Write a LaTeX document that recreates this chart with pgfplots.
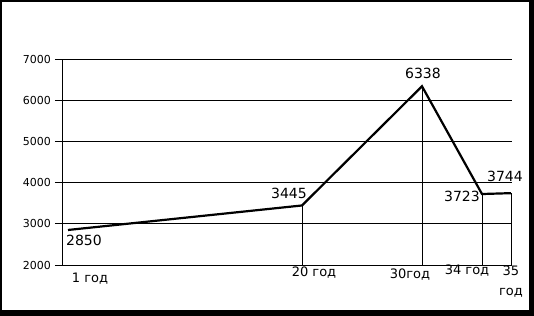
\documentclass[border=0pt]{standalone}
\usepackage{fontspec}
\setmainfont{DejaVu Sans}
\usepackage{pgfplots}
\pgfplotsset{compat=1.18}
\begin{document}
\begin{tikzpicture}
\fill[black] (0,0) rectangle (534bp,316bp);
\fill[white] (2bp,6bp) rectangle (529bp,314bp);
\begin{axis}[
  at={(62bp,51bp)}, anchor=south west,
  scale only axis, width=450bp, height=206bp,
  xmin=62, xmax=512, ymin=2000, ymax=7000,
  axis x line=bottom, axis y line=left,
  axis line style={black, line width=0.8bp, -},
  xtick=\empty,
  ytick={2000,3000,4000,5000,6000,7000},
  ymajorgrids, grid style={black, line width=0.8bp},
  tick align=outside, major tick length=7bp,
  tick style={black, line width=0.8bp},
  /pgf/number format/assume math mode=true,
  /pgf/number format/1000 sep={},
  yticklabel style={font=\fontsize{11bp}{13bp}\selectfont, xshift=-0.5bp},
  clip=false,
]
\addplot[black, line width=0.8bp] coordinates {(302,2000) (302,3445)};
\addplot[black, line width=0.8bp] coordinates {(422,2000) (422,6338)};
\addplot[black, line width=0.8bp] coordinates {(482,2000) (482,3723)};
\addplot[black, line width=0.8bp] coordinates {(511,2000) (511,3744)};
\addplot[black, line width=2.2bp] coordinates {(68,2850) (302,3445) (422,6338) (482,3723) (511,3744)};
\begin{scope}[every node/.style={font=\fontsize{14bp}{16bp}\selectfont, inner sep=0pt}]
\node at (axis cs:84,2607) {2850};
\node at (axis cs:289,3748) {3445};
\node at (axis cs:423,6660) {6338};
\node at (axis cs:462,3675) {3723};
\node at (axis cs:505,4160) {3744};
\end{scope}
\begin{scope}[every node/.style={font=\fontsize{13bp}{15bp}\selectfont, inner sep=0pt}]
\node at (axis cs:90,1660) {1 год};
\node at (axis cs:314,1806) {20 год};
\node at (axis cs:410,1757) {30год};
\node at (axis cs:467,1854) {34 год};
\node at (axis cs:511,1854) {35};
\node at (axis cs:511,1320) {год};
\end{scope}
\end{axis}
\end{tikzpicture}
\end{document}
